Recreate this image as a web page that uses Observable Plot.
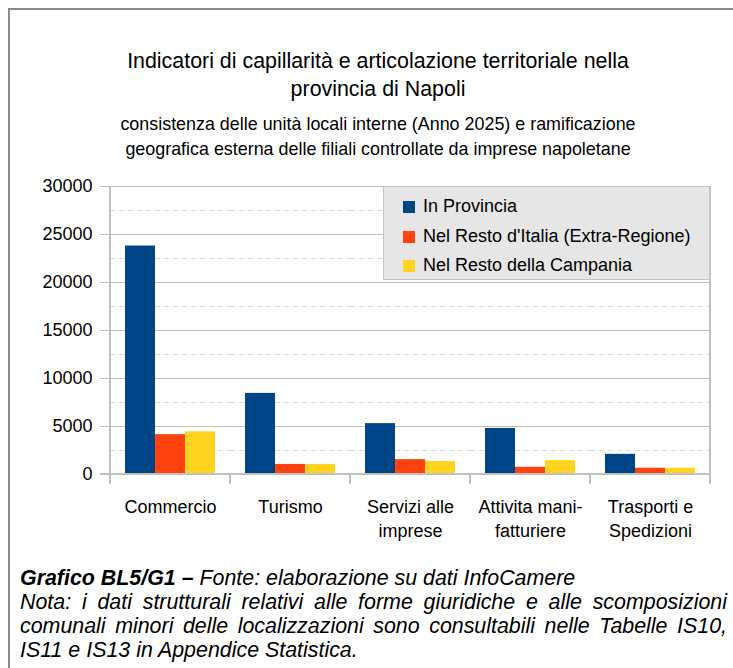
<!DOCTYPE html>
<html>
<head>
<meta charset="utf-8">
<script src="https://cdn.jsdelivr.net/npm/d3@7"></script>
<script src="https://cdn.jsdelivr.net/npm/@observablehq/plot@0.6"></script>
<style>
  html, body { margin: 0; padding: 0; background: #fff; }
  body { width: 733px; height: 668px; overflow: hidden; position: relative;
         font-family: "Liberation Sans", Arial, sans-serif; color: #000; }
  #frame { position: absolute; left: 8px; top: 8px; width: 740px; height: 700px;
           border-top: 2px solid #8a8a8a; border-left: 2px solid #8a8a8a; }
  .title { position: absolute; left: 78px; width: 600px; text-align: center; }
  #t1 { top: 47px; font-size: 21.4px; line-height: 28px; }
  #t2 { top: 112px; font-size: 17.9px; line-height: 25px; }
  #chart { position: absolute; left: 0; top: 170px; }
  #legend { position: absolute; left: 383px; top: 186px; width: 327px; height: 94px;
            background: #e6e6e6; border: 1px solid #c4c4c4; box-sizing: border-box; }
  .li { position: absolute; left: 19px; height: 24px; line-height: 24px; font-size: 18px; white-space: nowrap; }
  .sw { display: inline-block; width: 12px; height: 12px; margin-right: 8px; vertical-align: -1px; }
  #cap { position: absolute; left: 20px; top: 566px; width: 707px; font-size: 21.4px; line-height: 24px; font-style: italic; }
  #cap p { margin: 0; white-space: nowrap; }
  #cap .j { text-align: justify; text-align-last: justify; white-space: normal; }
</style>
</head>
<body>
<div id="frame"></div>
<div class="title" id="t1">Indicatori di capillarità e articolazione territoriale nella<br>provincia di Napoli</div>
<div class="title" id="t2">consistenza delle unità locali interne (Anno 2025) e ramificazione<br>geografica esterna delle filiali controllate da imprese napoletane</div>
<div id="chart"></div>
<div id="legend"></div>
<div id="cap">
  <p><b>Grafico BL5/G1 –</b> Fonte: elaborazione su dati InfoCamere</p>
  <p class="j">Nota: i dati strutturali relativi alle forme giuridiche e alle scomposizioni</p>
  <p class="j">comunali minori delle localizzazioni sono consultabili nelle Tabelle IS10,</p>
  <p>IS11 e IS13 in Appendice Statistica.</p>
</div>
<script>
const categories = ["Commercio", "Turismo", "Servizi alle\nimprese", "Attivita mani-\nfatturiere", "Trasporti e\nSpedizioni"];
const series = ["In Provincia", "Nel Resto d'Italia (Extra-Regione)", "Nel Resto della Campania"];
const inProvincia = [23800, 8450, 5300, 4800, 2100];
const restoItalia = [4150, 1050, 1550, 750, 650];
const restoCampania = [4450, 1050, 1350, 1450, 650];
const colors = ["#004586", "#ff420e", "#ffd320"];
const yTicks = [0, 5000, 10000, 15000, 20000, 25000, 30000];
const yMinor = [2500, 7500, 12500, 17500, 22500, 27500];

const values = [inProvincia, restoItalia, restoCampania];
const data = [];
categories.forEach((c, i) => series.forEach((s, j) => data.push({category: c, series: s, value: values[j][i]})));

const font = '"Liberation Sans", Arial, sans-serif';

const svg = Plot.plot({
  width: 733,
  height: 380,
  marginTop: 16,
  marginBottom: 76,
  marginLeft: 110,
  marginRight: 23,
  style: {fontFamily: font, fontSize: "18px", color: "#000", background: "transparent"},
  fx: {domain: categories, padding: 0},
  x: {domain: series, paddingInner: 0, paddingOuter: 0.5, axis: null},
  y: {domain: [0, 30000], axis: null},
  color: {domain: series, range: colors},
  marks: [
    Plot.ruleY(yMinor, {stroke: "#dadada", strokeDasharray: "5,4"}),
    Plot.ruleY(yTicks, {stroke: "#c0c0c0", strokeWidth: 1.2}),
    Plot.barY(data, {fx: "category", x: "series", y: "value", fill: "series"}),
    Plot.axisY({ticks: yTicks, tickSize: 10, tickPadding: 8, tickFormat: d => String(d), stroke: "#c0c0c0", fill: "#000", label: null, fontSize: 18}),
    Plot.axisFx({anchor: "bottom", tickSize: 0, tickPadding: 22, label: null, fontSize: 18, lineHeight: 1.33, fill: "#000"})
  ]
});

// category boundary ticks and plot borders, from the library's scales
const fx = svg.scale("fx");
const y = svg.scale("y");
const x0 = fx.range[0], x1 = fx.range[1];
const step = (x1 - x0) / categories.length;
const yb = y.apply(0), yt = y.apply(30000);
const g = d3.select(svg).append("g").attr("stroke", "#c0c0c0").attr("stroke-width", 2);
for (let i = 0; i <= categories.length; i++) {
  const xx = x0 + i * step;
  const top = (i === 0 || i === categories.length) ? yt : yb;
  g.append("line").attr("x1", xx).attr("x2", xx).attr("y1", top).attr("y2", yb + 10);
}
g.append("line").attr("x1", x0 - 10).attr("x2", x1).attr("y1", yb).attr("y2", yb);
document.getElementById("chart").appendChild(svg);

// legend
const legend = document.getElementById("legend");
series.forEach((s, j) => {
  const d = document.createElement("div");
  d.className = "li";
  d.style.top = (7 + j * 29.5) + "px";
  d.innerHTML = `<span class="sw" style="background:${colors[j]}"></span>`;
  d.appendChild(document.createTextNode(s));
  legend.appendChild(d);
});
</script>
</body>
</html>
